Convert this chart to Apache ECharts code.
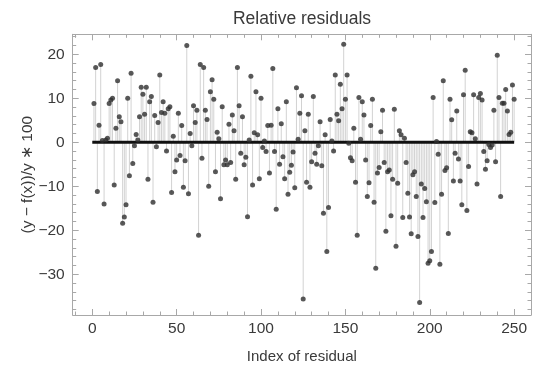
<!DOCTYPE html>
<html>
<head>
<meta charset="utf-8">
<script src="https://cdn.jsdelivr.net/npm/echarts@6/dist/echarts.min.js"></script>
<style>
  html, body { margin: 0; padding: 0; background: #fff; }
  #chart { width: 536px; height: 372px; }
</style>
</head>
<body>
<div id="chart"></div>
<script>
// Relative residual (in percent) for each observation, index 1..250
const residuals = [
  8.8, 17.0, -11.2, 3.9, 17.7, 0.4, -14.0, 0.5, 0.9, 8.8,
  9.6, 10.0, -9.7, 3.2, 14.0, 5.8, 4.7, -18.4, -17.0, -14.2,
  10.0, -7.6, 15.7, -4.8, -0.8, 1.8, 0.5, 5.8, 12.5, 10.9,
  6.4, 12.5, -8.4, 9.2, 10.4, -13.6, 6.1, -1.0, 4.5, 15.3,
  6.8, 9.2, 6.6, -2.0, 7.6, 8.1, -11.4, 1.4, -6.7, -4.0,
  6.6, -3.0, 3.8, -10.2, -4.2, 22.0, -11.7, 2.0, -0.8, 8.3,
  4.5, 7.3, -21.1, 17.7, -3.6, 17.0, 7.3, 5.2, -10.0, 11.5,
  14.2, 9.8, -6.7, 2.3, 0.8, -12.8, 8.1, -5.1, -4.0, -5.1,
  4.1, -4.6, 6.2, 2.6, -8.4, 17.0, 8.3, -2.5, 5.8, -5.1,
  -3.4, -16.9, 0.5, 15.0, -9.7, 2.2, 11.5, 1.7, -8.3, 10.0,
  -1.2, 0.3, -2.1, 3.8, -7.0, 3.9, 16.8, -2.1, -15.2, 7.6,
  -5.0, 4.2, -3.3, -8.3, 9.2, -11.8, -6.8, -5.2, -2.2, -10.3,
  12.4, 0.7, 6.6, 10.6, -35.6, 2.6, -9.1, 6.4, -10.2, -4.4,
  10.4, -2.5, -5.0, -0.8, 4.7, -5.3, -16.1, 1.7, -24.8, -14.8,
  5.2, 0.3, -2.0, 15.3, 6.4, 4.9, 13.2, 7.6, 22.3, 9.8,
  15.3, -0.2, -3.5, -4.2, 3.2, -9.1, -21.1, 10.2, 0.7, 9.2,
  6.2, -4.0, -12.3, -9.2, 3.8, 9.8, -13.6, -28.6, -7.0, -5.7,
  2.4, 7.3, -4.6, -20.2, -6.7, -6.3, -16.7, -8.4, 7.5, -23.6,
  -9.3, 2.6, 1.7, -17.1, 0.9, -4.6, -11.6, -17.0, -20.8, -7.4,
  -6.7, -12.3, -21.4, -36.4, -9.5, -17.1, -10.5, -13.5, -27.5, -26.9,
  -24.8, 10.2, -13.7, 0.2, -2.7, -27.7, -11.8, 14.0, -6.4, -5.8,
  -20.7, 9.8, 5.1, -8.8, -2.5, 7.1, -3.8, -8.8, -14.2, 10.8,
  16.4, -15.5, -5.5, 2.4, 2.2, 10.8, 0.8, -9.5, 10.2, 11.1,
  9.6, -2.1, -6.1, -4.2, -0.5, -1.2, -0.6, 7.3, -4.4, 19.8,
  10.2, -12.3, 8.9, 8.9, 12.0, 7.1, 1.8, 2.3, 13.0, 9.8
];

// Tick positions
const xMajorTicks = [0, 50, 100, 150, 200, 250];
const xMinorTicks = [-10, 10, 20, 30, 40, 60, 70, 80, 90, 110, 120, 130, 140, 160, 170, 180, 190, 210, 220, 230, 240, 260];
const yMajorTicks = [-30, -20, -10, 0, 10, 20];
const yMinorTicks = [-38, -36, -34, -32, -28, -26, -24, -22, -18, -16, -14, -12, -8, -6, -4, -2, 2, 4, 6, 8, 12, 14, 16, 18, 22, 24];

// Reference line along zero, spanning the indices
const zeroLineX = [0, 250];

const points = residuals.map((v, i) => [i + 1, v]);

const textColor = '#3a3a3a';
const frameColor = '#a8a8a8';
const fontFamily = '"Liberation Sans", Arial, sans-serif';
const fmtNum = v => String(v).replace('-', '\u2212');

const xRange = { min: -11.6, max: 260 };
const yRange = { min: -39.25, max: 24.55 };

function frameAxis(position, ticks, len, showLine, extra) {
  return Object.assign({
    type: 'value',
    position: position,
    min: null, max: null,
    axisLine: { show: showLine, onZero: false, lineStyle: { color: frameColor, width: 1 } },
    axisTick: { show: true, inside: true, length: len, customValues: ticks, lineStyle: { color: frameColor, width: 1 } },
    axisLabel: { show: false },
    splitLine: { show: false }
  }, extra || {});
}

function xAx(position, ticks, len, showLine, extra) {
  const a = frameAxis(position, ticks, len, showLine, extra);
  a.min = xRange.min; a.max = xRange.max;
  return a;
}
function yAx(position, ticks, len, showLine, extra) {
  const a = frameAxis(position, ticks, len, showLine, extra);
  a.min = yRange.min; a.max = yRange.max;
  return a;
}

const chart = echarts.init(document.getElementById('chart'), null, { renderer: 'canvas' });

chart.setOption({
  animation: false,
  backgroundColor: '#ffffff',
  graphic: [{
    type: 'text',
    x: 302, y: 19,
    style: {
      text: 'Relative residuals',
      fill: textColor,
      font: '17.5px ' + fontFamily,
      align: 'center',
      verticalAlign: 'middle'
    }
  }],
  grid: { left: 72.7, top: 34.3, width: 458.3, height: 280.7, containLabel: false },
  xAxis: [
    xAx('bottom', xMajorTicks, 6, true, {
      name: 'Index of residual',
      nameLocation: 'middle',
      nameGap: 34,
      nameMoveOverlap: false,
      nameTextStyle: { color: textColor, fontSize: 15, fontFamily: fontFamily },
      axisLabel: {
        show: true, customValues: xMajorTicks, margin: 6,
        color: textColor, fontSize: 15.5, fontFamily: fontFamily
      }
    }),
    xAx('bottom', xMinorTicks, 3.5, false),
    xAx('top', xMajorTicks, 6, true),
    xAx('top', xMinorTicks, 3.5, false)
  ],
  yAxis: [
    yAx('left', yMajorTicks, 6, true, {
      name: '(y \u2212 f(x))/y \u2217 100',
      nameLocation: 'middle',
      nameGap: 37,
      nameRotate: 90,
      nameMoveOverlap: false,
      nameTextStyle: { color: textColor, fontSize: 15.5, fontFamily: fontFamily },
      axisLabel: {
        show: true, customValues: yMajorTicks, margin: 8,
        color: textColor, fontSize: 15.5, fontFamily: fontFamily,
        formatter: fmtNum
      }
    }),
    yAx('left', yMinorTicks, 3.5, false),
    yAx('right', yMajorTicks, 6, true),
    yAx('right', yMinorTicks, 3.5, false)
  ],
  series: [
    {
      // stems from zero to each residual
      type: 'custom',
      xAxisIndex: 0, yAxisIndex: 0,
      data: points,
      z: 1,
      renderItem: function (params, api) {
        const x = api.value(0);
        const p0 = api.coord([x, 0]);
        const p1 = api.coord([x, api.value(1)]);
        return {
          type: 'line',
          shape: { x1: p0[0], y1: p0[1], x2: p1[0], y2: p1[1] },
          style: { stroke: '#d2d2d2', lineWidth: 1 }
        };
      }
    },
    {
      type: 'line',
      xAxisIndex: 0, yAxisIndex: 0,
      data: zeroLineX.map(x => [x, 0]),
      symbol: 'none',
      z: 3,
      lineStyle: { color: '#111111', width: 3 }
    },
    {
      type: 'scatter',
      xAxisIndex: 0, yAxisIndex: 0,
      data: points,
      symbol: 'circle',
      symbolSize: 5,
      z: 4,
      itemStyle: { color: '#2e2e2e' }
    }
  ]
});
</script>
</body>
</html>
